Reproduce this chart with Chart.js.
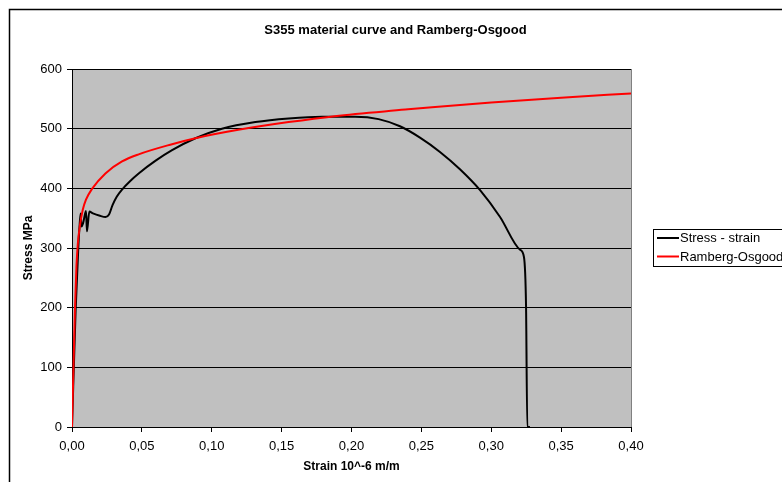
<!DOCTYPE html>
<html>
<head>
<meta charset="utf-8">
<title>S355 material curve and Ramberg-Osgood</title>
<script src="https://cdn.jsdelivr.net/npm/chart.js@4.4.1/dist/chart.umd.min.js"></script>
<style>
  body { margin: 0; background: #fff; }
  #wrap { width: 782px; height: 482px; position: relative; }
</style>
</head>
<body>
<div id="wrap"><canvas id="chart"></canvas></div>
<script>
// measured curve (strain, stress MPa)
const strainTest = [0, 0.0026, 0.0045, 0.0055, 0.0062, 0.0068, 0.0080, 0.0100, 0.0107, 0.0124,
    0.0150, 0.0200, 0.0240, 0.0265, 0.0290, 0.0320, 0.0358, 0.0415, 0.0477, 0.0596,
    0.0716, 0.0883, 0.1073, 0.1312, 0.1550, 0.1790, 0.2027, 0.2194, 0.2347, 0.2490,
    0.2633, 0.2776, 0.2920, 0.3063, 0.3206, 0.3234, 0.3249, 0.3258, 0.3277]
const stressTest = [0, 196, 300, 340, 358, 336, 342, 362, 328, 361,
    358, 354, 352, 356, 372, 386, 398, 412, 425, 446,
    464, 484, 500, 511, 517, 520, 520, 516, 504, 485,
    461, 432, 397, 352, 297, 285, 202, 0, 0]

// Ramberg-Osgood curve
const strainRO = [0, 0.0021, 0.0032, 0.0042, 0.0055, 0.0077, 0.0100, 0.0143, 0.0239, 0.0358,
    0.0477, 0.0716, 0.0883, 0.1190, 0.1550, 0.1880, 0.2385, 0.2576, 0.3000, 0.3500, 0.4000]
const stressRO = [0, 196, 270, 308, 335, 364, 381, 399, 425, 445,
    457, 474, 484, 498, 511, 521, 532, 536, 544, 552, 559]

const seriesNames = ['Stress - strain', 'Ramberg-Osgood']
const yTicks = [0, 100, 200, 300, 400, 500, 600]

const FONT = "'Liberation Sans', Arial, sans-serif"

function toPoints(xs, ys) {
    return xs.map((x, i) => ({ x: x, y: ys[i] }))
}

// background, chart border, plot area fill
const framePlugin = {
    id: 'frame',
    beforeDraw(chart) {
        const ctx = chart.ctx
        const a = chart.chartArea
        ctx.save()
        ctx.fillStyle = '#ffffff'
        ctx.fillRect(0, 0, chart.width, chart.height)
        ctx.strokeStyle = '#000000'
        ctx.lineWidth = 1.5
        ctx.strokeRect(9.5, 9.5, chart.width + 20, chart.height + 20)
        ctx.fillStyle = '#c0c0c0'
        ctx.fillRect(a.left, a.top, a.right - a.left, a.bottom - a.top)
        ctx.strokeStyle = '#808080'
        ctx.lineWidth = 1
        ctx.strokeRect(Math.round(a.left) + 0.5, Math.round(a.top) + 0.5, a.right - a.left, a.bottom - a.top)
        ctx.restore()
    },
    afterDraw(chart) {
        // legend box on the right
        const ctx = chart.ctx
        ctx.save()
        ctx.strokeStyle = '#000000'
        ctx.lineWidth = 1
        ctx.strokeRect(653.5, 229.5, 200, 37)
        ctx.font = '13px ' + FONT
        ctx.textBaseline = 'middle'
        ctx.textAlign = 'left'
        chart.data.datasets.forEach((ds, i) => {
            const y = 238 + i * 18.5
            ctx.strokeStyle = ds.borderColor
            ctx.lineWidth = 2
            ctx.beginPath()
            ctx.moveTo(657, y)
            ctx.lineTo(679, y)
            ctx.stroke()
            ctx.fillStyle = '#000000'
            ctx.fillText(ds.label, 680, y + 0.5)
        })
        ctx.restore()
    }
}

const commaFmt = v => Number(v).toFixed(2).replace('.', ',')

new Chart(document.getElementById('chart'), {
    type: 'line',
    data: {
        datasets: [{
            label: seriesNames[0],
            data: toPoints(strainTest, stressTest),
            borderColor: '#000000',
            borderWidth: 2,
            pointRadius: 0,
            cubicInterpolationMode: 'monotone',
            order: 2
        }, {
            label: seriesNames[1],
            data: toPoints(strainRO, stressRO),
            borderColor: '#ff0000',
            borderWidth: 2,
            pointRadius: 0,
            cubicInterpolationMode: 'monotone',
            order: 1
        }]
    },
    options: {
        responsive: true,
        maintainAspectRatio: false,
        animation: false,
        layout: { padding: { left: 9, top: 9, right: 0, bottom: 0 } },
        plugins: {
            legend: { display: false },
            tooltip: { enabled: false },
            title: {
                display: true,
                text: 'S355 material curve and Ramberg-Osgood',
                color: '#000000',
                font: { family: FONT, size: 13, weight: 'bold' },
                padding: { top: 14, bottom: 30.4 }
            }
        },
        scales: {
            x: {
                type: 'linear',
                min: 0,
                max: 0.4,
                ticks: {
                    stepSize: 0.05,
                    color: '#000000',
                    font: { family: FONT, size: 13 },
                    padding: 7,
                    maxRotation: 0,
                    callback: commaFmt
                },
                grid: { display: true, drawOnChartArea: false, drawTicks: true, tickLength: 5, color: '#000000' },
                border: { display: true, color: '#000000', width: 1 },
                title: {
                    display: true,
                    text: 'Strain 10^-6 m/m',
                    color: '#000000',
                    font: { family: FONT, size: 12, weight: 'bold' },
                    padding: { top: 0, bottom: 8 }
                },
                afterFit(scale) { scale.height = 55 }
            },
            y: {
                type: 'linear',
                min: yTicks[0],
                max: yTicks[yTicks.length - 1],
                afterBuildTicks(scale) { scale.ticks = yTicks.map(v => ({ value: v })) },
                ticks: {
                    color: '#000000',
                    font: { family: FONT, size: 13 },
                    padding: 5
                },
                grid: { color: '#000000', lineWidth: 1, drawTicks: true, tickLength: 5 },
                border: { display: true, color: '#000000', width: 1 },
                title: {
                    display: true,
                    text: 'Stress MPa',
                    color: '#000000',
                    font: { family: FONT, size: 12, weight: 'bold' },
                    padding: { top: 12, bottom: 0 }
                },
                afterFit(scale) { scale.width = 63 }
            },
            // empty scale that holds the room for the legend
            side: {
                type: 'linear',
                axis: 'y',
                position: 'right',
                display: true,
                ticks: { display: false },
                grid: { display: false, drawTicks: false },
                border: { display: false },
                afterFit(scale) { scale.width = 151 }
            }
        }
    },
    plugins: [framePlugin]
})
</script>
</body>
</html>
